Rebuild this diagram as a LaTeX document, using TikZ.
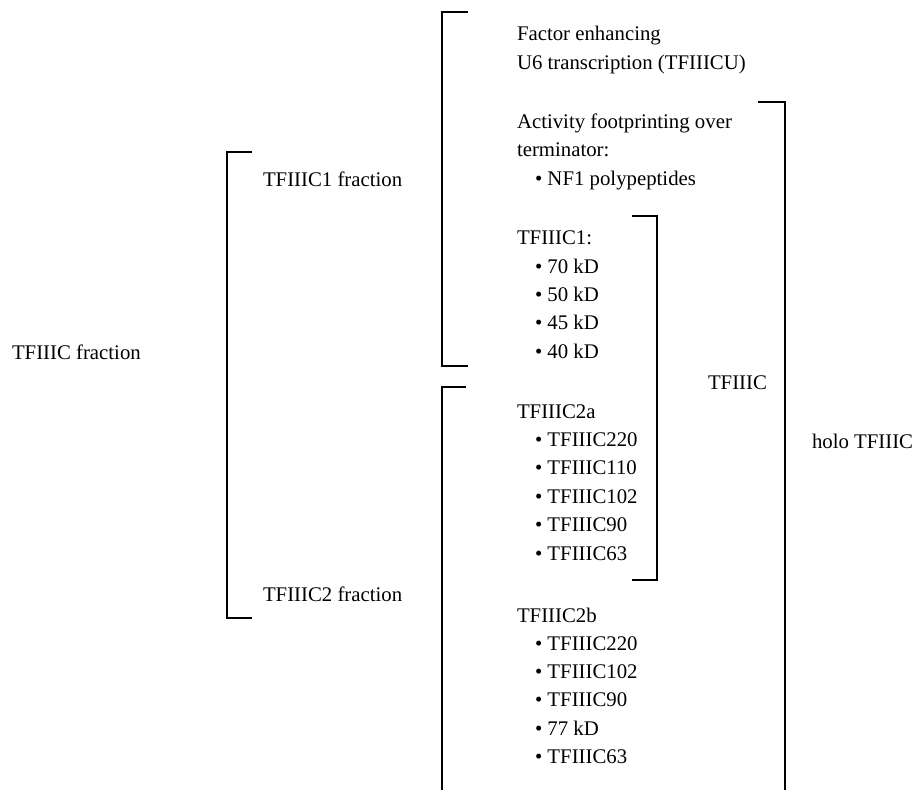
\documentclass[tikz,border=0pt]{standalone}
\usepackage{fontspec}
\setmainfont{Liberation Serif}
\begin{document}
\begin{tikzpicture}[x=0.5pt,y=-0.5pt,
  lbl/.style={anchor=base west,inner sep=0pt,outer sep=0pt,font=\fontsize{10.4pt}{14pt}\selectfont},
  brk/.style={line width=0.75pt,line join=miter}]
\useasboundingbox (0,0) rectangle (914,790);
% left labels
\node[lbl] (frac) at (12,360) {TFIIIC fraction};
\node[lbl] (frac1) at (263,187) {TFIIIC1 fraction};
\node[lbl] (frac2) at (263,601) {TFIIIC2 fraction};
% top block
\node[lbl] (fe1) at (517,41) {Factor enhancing};
\node[lbl] (fe2) at (517,70) {U6 transcription (TFIIICU)};
\node[lbl] (af1) at (517,129) {Activity footprinting over};
\node[lbl] (af2) at (517,157) {terminator:};
\node[lbl] (af3) at (535,186) {\textbullet\ NF1 polypeptides};
% TFIIIC1
\node[lbl] (c1) at (517,245) {TFIIIC1:};
\foreach \t [count=\i] in {70 kD,50 kD,45 kD,40 kD}
  \node[lbl] (c1i\i) at (535,245+28.3*\i) {\textbullet\ \t};
% TFIIIC2a
\node[lbl] (c2a) at (517,418) {TFIIIC2a};
\foreach \t [count=\i] in {TFIIIC220,TFIIIC110,TFIIIC102,TFIIIC90,TFIIIC63}
  \node[lbl] (c2ai\i) at (535,418+28.4*\i) {\textbullet\ \t};
% TFIIIC2b
\node[lbl] (c2b) at (517,622) {TFIIIC2b};
\foreach \t [count=\i] in {TFIIIC220,TFIIIC102,TFIIIC90,77 kD,TFIIIC63}
  \node[lbl] (c2bi\i) at (535,622+28.3*\i) {\textbullet\ \t};
% right labels
\node[lbl] (tf) at (708,390) {TFIIIC};
\node[lbl] (holo) at (812,448) {holo TFIIIC};
% brackets
\draw[brk] (252,152) -- (227,152) -- (227,618) -- (252,618);
\draw[brk] (468,12) -- (442,12) -- (442,366) -- (468,366);
\draw[brk] (466,387) -- (442,387) -- (442,790);
\draw[brk] (632,216) -- (657,216) -- (657,580) -- (632,580);
\draw[brk] (758,102) -- (785,102) -- (785,790);
\end{tikzpicture}
\end{document}
